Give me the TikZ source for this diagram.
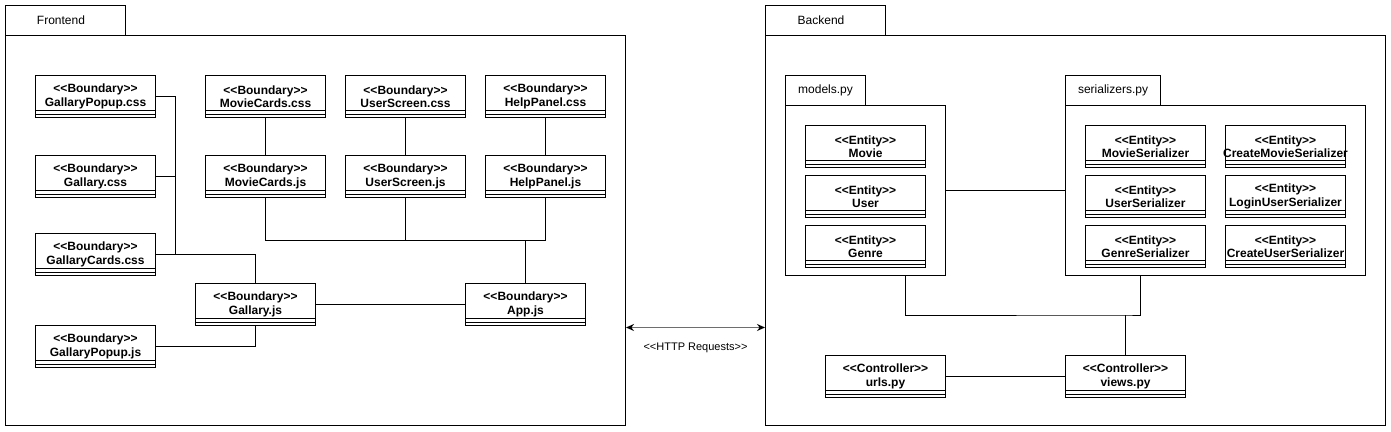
\documentclass[tikz,border=0pt]{standalone}
\usepackage{fontspec}
\setmainfont{Liberation Sans}[Ligatures=TeXOff]
\usetikzlibrary{arrows.meta}
\definecolor{httpgray}{RGB}{110,110,110}
\newcommand\clsbox[4]{%
  \node[clsnode, anchor=north west] (#1) at (#2,#3) {#4};
  \draw[conn] ([yshift=8pt]#1.south west) -- ([yshift=8pt]#1.south east)
              ([yshift=4pt]#1.south west) -- ([yshift=4pt]#1.south east);}
\begin{document}
\begin{tikzpicture}[x=1pt,y=-1pt,
  clsnode/.style={draw, line width=1pt, minimum width=120pt, minimum height=42pt,
    inner xsep=-10pt, inner ysep=0pt, align=center, font=\fontsize{12}{13.5}\selectfont\bfseries},
  conn/.style={line width=1pt},
  pkg/.style={draw, line width=1pt, inner sep=0pt, anchor=north west},
  pkglabel/.style={font=\fontsize{12}{14}\selectfont}]
\useasboundingbox (0,0) rectangle (1391,431);
% ---------- Frontend package ----------
\node[pkg, minimum width=120pt, minimum height=30pt, pkglabel] (ftab) at (5,5) {\hspace*{-9pt}Frontend};
\node[pkg, minimum width=620pt, minimum height=390pt] (front) at (5,35) {};
% ---------- Backend package ----------
\node[pkg, minimum width=120pt, minimum height=30pt, pkglabel] (btab) at (765,5) {\hspace*{-9pt}Backend};
\node[pkg, minimum width=620pt, minimum height=390pt] (back) at (765,35) {};
% models.py / serializers.py packages
\node[pkg, minimum width=80pt, minimum height=30pt, pkglabel] (mtab) at (785,75) {models.py};
\node[pkg, minimum width=160pt, minimum height=170pt] (models) at (785,105) {};
\node[pkg, minimum width=95pt, minimum height=30pt, pkglabel] (stab) at (1065,75) {serializers.py};
\node[pkg, minimum width=300pt, minimum height=170pt] (ser) at (1065,105) {};
% ---------- Frontend classes ----------
\clsbox{gpcss}{35}{75}{<<Boundary>>\\GallaryPopup.css}
\clsbox{gcss}{35}{155}{<<Boundary>>\\Gallary.css}
\clsbox{gccss}{35}{233}{<<Boundary>>\\GallaryCards.css}
\clsbox{gpjs}{35}{325}{<<Boundary>>\\GallaryPopup.js}
\clsbox{gjs}{195}{283}{<<Boundary>>\\Gallary.js}
\clsbox{mccss}{205}{75}{<<Boundary>>\\MovieCards.css}
\clsbox{mcjs}{205}{155}{<<Boundary>>\\MovieCards.js}
\clsbox{uscss}{345}{75}{<<Boundary>>\\UserScreen.css}
\clsbox{usjs}{345}{155}{<<Boundary>>\\UserScreen.js}
\clsbox{hpcss}{485}{75}{<<Boundary>>\\HelpPanel.css}
\clsbox{hpjs}{485}{155}{<<Boundary>>\\HelpPanel.js}
\clsbox{appjs}{465}{283}{<<Boundary>>\\App.js}
% ---------- Backend classes ----------
\clsbox{movie}{805}{125}{<<Entity>>\\Movie}
\clsbox{user}{805}{175}{<<Entity>>\\User}
\clsbox{genre}{805}{225}{<<Entity>>\\Genre}
\clsbox{mser}{1085}{125}{<<Entity>>\\MovieSerializer}
\clsbox{userser}{1085}{175}{<<Entity>>\\UserSerializer}
\clsbox{gser}{1085}{225}{<<Entity>>\\GenreSerializer}
\clsbox{cmser}{1225}{125}{<<Entity>>\\CreateMovieSerializer}
\clsbox{luser}{1225}{175}{<<Entity>>\\LoginUserSerializer}
\clsbox{cuser}{1225}{225}{<<Entity>>\\CreateUserSerializer}
\clsbox{urls}{825}{355}{<<Controller>>\\urls.py}
\clsbox{views}{1065}{355}{<<Controller>>\\views.py}
% ---------- Frontend connectors ----------
\coordinate (jl) at (175,254);
\coordinate (jt) at (525,240);
\draw[conn] (gpcss.east) -| (jl);
\draw[conn] (gcss.east) -- (gcss.east -| jl);
\draw[conn] (gccss.east) -| (gjs.north);
\draw[conn] (gpjs.east) -| (gjs.south);
\draw[conn] (gjs) -- (appjs);
\draw[conn] (mccss) -- (mcjs);
\draw[conn] (uscss) -- (usjs);
\draw[conn] (hpcss) -- (hpjs);
\draw[conn] (mcjs.south) |- (hpjs.south |- jt) -- (hpjs.south);
\draw[conn] (usjs.south) -- (usjs.south |- jt);
\draw[conn] (appjs.north) -- (appjs.north |- jt);
% ---------- Backend connectors ----------
\coordinate (jb) at (1125,315);
\draw[conn] (models.east) -- (ser.west);
\draw[conn] ([xshift=40pt]models.south) |- (jb) -| ([xshift=-75pt]ser.south);
\draw[conn] (views.north) -- (views.north |- jb);
\draw[conn] (urls) -- (views);
% ---------- HTTP ----------
\draw[httpgray, line width=1.5pt, {Stealth[length=8pt,width=7pt,black]}-{Stealth[length=8pt,width=7pt,black]}]
  (front.east |- 0,327.5) -- (back.west |- 0,327.5)
  node[midway, yshift=-20pt, text=black, font=\fontsize{11}{13}\selectfont] (http) {<<HTTP Requests>>};
\end{tikzpicture}
\end{document}
